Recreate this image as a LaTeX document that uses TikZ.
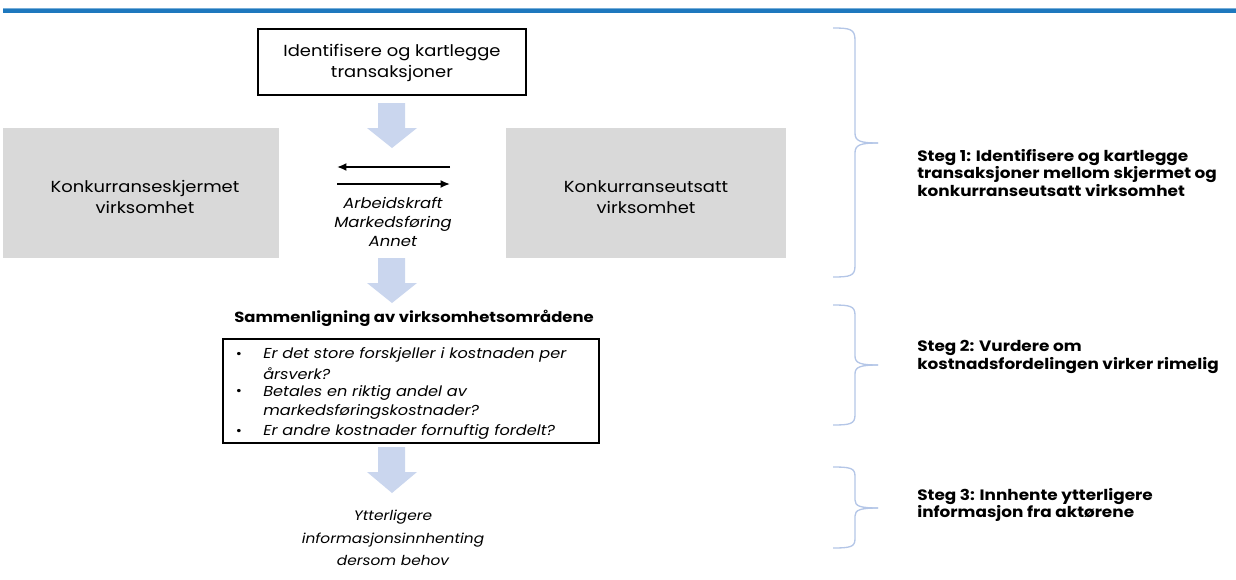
\documentclass[tikz,border=0pt]{standalone}
\usepackage{fontspec}
\setmainfont{Poppins}[FakeStretch=1.12]
\definecolor{topblue}{HTML}{1E78BE}
\definecolor{arrowblue}{HTML}{CAD6EE}
\definecolor{boxgray}{HTML}{D9D9D9}
\definecolor{bracecol}{HTML}{B4C6E7}
\tikzset{
  body/.style={font=\fontsize{12}{15.5}\selectfont, align=center, inner sep=0pt},
  bodyit/.style={font=\fontsize{11}{14.5}\selectfont\itshape, align=center, inner sep=0pt},
  moreit/.style={font=\fontsize{10.3}{17}\selectfont\itshape, align=center, inner sep=0pt},
  stegtxt/.style={font=\fontsize{11.3}{12}\selectfont\bfseries, align=left, anchor=west, inner sep=0pt},
  listtxt/.style={font=\fontsize{10.8}{14}\selectfont\itshape, anchor=west, inner sep=0pt},
  bullet/.style={font=\fontsize{10}{14}\selectfont, inner sep=0pt},
  graybox/.style={fill=boxgray, draw=none, inner sep=0pt},
  blockarrow/.style={fill=arrowblue, draw=none},
  flowarrow/.style={-{Latex[length=7pt,width=6pt]}, line width=1.3pt},
  bracestyle/.style={draw=bracecol, line width=1pt},
}
\usetikzlibrary{arrows.meta}
\begin{document}
\begin{tikzpicture}[x=0.75pt,y=-0.75pt]
\useasboundingbox (0,0) rectangle (1236,579);
% top rule
\fill[topblue] (3,8) rectangle (1236,12.5);
\fill[topblue!60] (3,7.5) rectangle (1236,8.5);

% top box
\node[draw, line width=0.9pt, minimum width=268*0.75pt, minimum height=66*0.75pt, inner sep=0pt] (id) at (392,62) {};
\node[body] (idt) at (392,63) {Identifisere og kartlegge\\transaksjoner};

% gray boxes
\node[graybox, minimum width=276*0.75pt, minimum height=130*0.75pt] (left) at (141,193) {};
\node[body] at (145,197) {Konkurranseskjermet\\virksomhet};
\node[graybox, minimum width=280*0.75pt, minimum height=130*0.75pt] (right) at (646,193) {};
\node[body] at (646,197) {Konkurranseutsatt\\virksomhet};

% block arrows
\fill[blockarrow] (378,103) -- (405,103) -- (405,128) -- (417,128) -- (392,148) -- (367,128) -- (378,128) -- cycle;
\fill[blockarrow] (378,258) -- (405,258) -- (405,283) -- (417,283) -- (392,303) -- (367,283) -- (378,283) -- cycle;
\fill[blockarrow] (378,447) -- (405,447) -- (405,472) -- (417,472) -- (392,493) -- (367,472) -- (378,472) -- cycle;

% transaction arrows
\coordinate (aR) at (450,167);
\coordinate (aL) at (337,167);
\coordinate (bL) at (337,184);
\coordinate (bR) at (450,184);
\draw[flowarrow] (aR) -- (aL);
\draw[flowarrow] (bL) -- (bR);
\node[bodyit] (trans) at (393,222) {Arbeidskraft\\Markedsføring\\Annet};

% comparison
\node[font=\fontsize{11}{12}\selectfont\bfseries, inner sep=0pt] (cmp) at (414,318) {Sammenligning av virksomhetsområdene};
\node[draw, line width=0.9pt, minimum width=376*0.75pt, minimum height=104*0.75pt, inner sep=0pt] (list) at (411,391) {};
\foreach \y in {355,392,432} \node[bullet] at (239,\y) {•};
\node[listtxt] at (263,355) {Er det store forskjeller i kostnaden per};
\node[listtxt] at (263,374) {årsverk?};
\node[listtxt] at (263,393) {Betales en riktig andel av};
\node[listtxt] at (263,412) {markedsføringskostnader?};
\node[listtxt] at (263,432) {Er andre kostnader fornuftig fordelt?};

\node[moreit] (more) at (393,538) {Ytterligere\\informasjonsinnhenting\\dersom behov};

% braces
\draw[bracestyle] (833,28) .. controls (850,28) and (855,29) .. (855,40) -- (855,133) .. controls (855,141) and (860,143) .. (878,143);
\draw[bracestyle] (878,143) .. controls (860,143) and (855,145) .. (855,153) -- (855,266) .. controls (855,276) and (850,277) .. (833,277);
\draw[bracestyle] (833,305) .. controls (850,305) and (855,306) .. (855,315) -- (855,356) .. controls (855,363) and (860,365) .. (878,365);
\draw[bracestyle] (878,365) .. controls (860,365) and (855,367) .. (855,374) -- (855,415) .. controls (855,424) and (850,425) .. (833,425);
\draw[bracestyle] (833,467) .. controls (850,467) and (855,468) .. (855,476) -- (855,500) .. controls (855,506) and (860,508) .. (878,508);
\draw[bracestyle] (878,508) .. controls (860,508) and (855,510) .. (855,516) -- (855,539) .. controls (855,547) and (850,548) .. (833,548);

\node[stegtxt] (s1) at (917,173) {Steg 1: Identifisere og kartlegge\\transaksjoner mellom skjermet og\\konkurranseutsatt virksomhet};
\node[stegtxt] (s2) at (917,357) {Steg 2: Vurdere om\\kostnadsfordelingen virker rimelig};
\node[stegtxt] (s3) at (917,505) {Steg 3: Innhente ytterligere\\informasjon fra aktørene};
\end{tikzpicture}
\end{document}
